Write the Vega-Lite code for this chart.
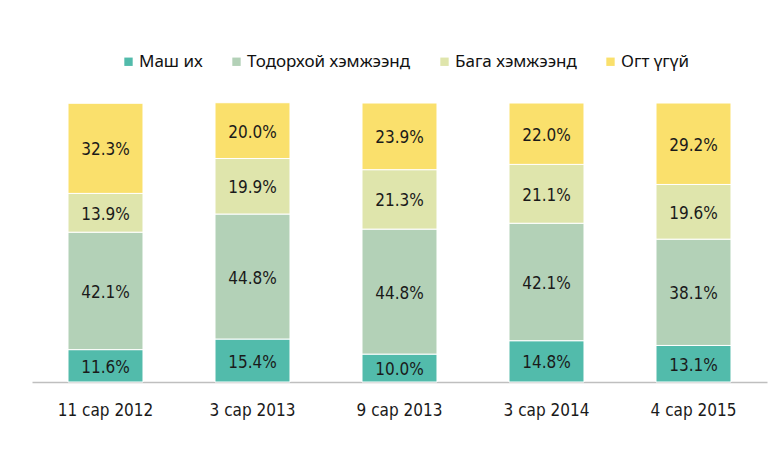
{
  "$schema": "https://vega.github.io/schema/vega-lite/v6.json",
  "width": 735,
  "height": 279,
  "autosize": {"type": "none"},
  "padding": {"left": 32, "top": 103, "right": 16, "bottom": 69},
  "background": "white",
  "config": {"view": {"stroke": null}},
  "data": {
    "values": [
      {"period": "11 сар 2012", "cat": "Маш их", "ord": 1, "v": 0.116},
      {"period": "11 сар 2012", "cat": "Тодорхой хэмжээнд", "ord": 2, "v": 0.421},
      {"period": "11 сар 2012", "cat": "Бага хэмжээнд", "ord": 3, "v": 0.139},
      {"period": "11 сар 2012", "cat": "Огт үгүй", "ord": 4, "v": 0.323},
      {"period": "3 сар 2013", "cat": "Маш их", "ord": 1, "v": 0.154},
      {"period": "3 сар 2013", "cat": "Тодорхой хэмжээнд", "ord": 2, "v": 0.448},
      {"period": "3 сар 2013", "cat": "Бага хэмжээнд", "ord": 3, "v": 0.199},
      {"period": "3 сар 2013", "cat": "Огт үгүй", "ord": 4, "v": 0.200},
      {"period": "9 сар 2013", "cat": "Маш их", "ord": 1, "v": 0.100},
      {"period": "9 сар 2013", "cat": "Тодорхой хэмжээнд", "ord": 2, "v": 0.448},
      {"period": "9 сар 2013", "cat": "Бага хэмжээнд", "ord": 3, "v": 0.213},
      {"period": "9 сар 2013", "cat": "Огт үгүй", "ord": 4, "v": 0.239},
      {"period": "3 сар 2014", "cat": "Маш их", "ord": 1, "v": 0.148},
      {"period": "3 сар 2014", "cat": "Тодорхой хэмжээнд", "ord": 2, "v": 0.421},
      {"period": "3 сар 2014", "cat": "Бага хэмжээнд", "ord": 3, "v": 0.211},
      {"period": "3 сар 2014", "cat": "Огт үгүй", "ord": 4, "v": 0.220},
      {"period": "4 сар 2015", "cat": "Маш их", "ord": 1, "v": 0.131},
      {"period": "4 сар 2015", "cat": "Тодорхой хэмжээнд", "ord": 2, "v": 0.381},
      {"period": "4 сар 2015", "cat": "Бага хэмжээнд", "ord": 3, "v": 0.196},
      {"period": "4 сар 2015", "cat": "Огт үгүй", "ord": 4, "v": 0.292}
    ]
  },
  "transform": [
    {"stack": "v", "groupby": ["period"], "sort": [{"field": "ord", "order": "ascending"}], "as": ["y0", "y1"]},
    {"calculate": "(datum.y0 + datum.y1) / 2", "as": "ymid"}
  ],
  "encoding": {
    "x": {
      "field": "period",
      "type": "nominal",
      "sort": ["11 сар 2012", "3 сар 2013", "9 сар 2013", "3 сар 2014", "4 сар 2015"],
      "scale": {"paddingInner": 0.49, "paddingOuter": 0.245},
      "axis": {
        "title": null,
        "labelAngle": 0,
        "ticks": false,
        "domainColor": "#bfbfbf",
        "domainWidth": 1.5,
        "labelFont": "DejaVu Sans Condensed, Roboto",
        "labelFontSize": 17,
        "labelColor": "#1a1a1a",
        "labelPadding": 20
      }
    }
  },
  "layer": [
    {
      "mark": {"type": "bar", "stroke": "white", "strokeWidth": 1},
      "encoding": {
        "y": {"field": "y0", "type": "quantitative", "scale": {"domain": [0, 1]}, "axis": null},
        "y2": {"field": "y1"},
        "color": {
          "field": "cat",
          "type": "nominal",
          "scale": {
            "domain": ["Маш их", "Тодорхой хэмжээнд", "Бага хэмжээнд", "Огт үгүй"],
            "range": ["#52bbab", "#b3d1b7", "#dfe5ac", "#fae06c"]
          },
          "legend": {
            "title": null,
            "orient": "none",
            "direction": "horizontal",
            "legendX": 88,
            "legendY": -50,
            "symbolType": "square",
            "symbolSize": 70,
            "symbolStrokeWidth": 0,
            "labelFont": "Noto Sans",
            "labelFontSize": 17,
            "labelLimit": 300,
            "labelColor": "#111",
            "labelOffset": 2,
            "columnPadding": 25
          }
        }
      }
    },
    {
      "mark": {"type": "text", "font": "DejaVu Sans Condensed, Roboto", "fontSize": 17, "color": "#1a1a1a", "baseline": "middle", "dy": 2},
      "encoding": {
        "y": {"field": "ymid", "type": "quantitative", "scale": {"domain": [0, 1]}},
        "text": {"field": "v", "type": "quantitative", "format": ".1%"}
      }
    }
  ]
}
